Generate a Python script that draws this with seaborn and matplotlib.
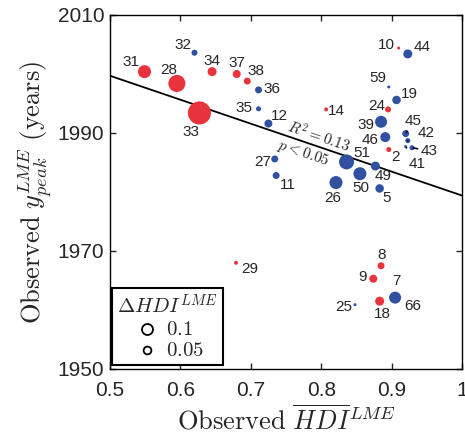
import numpy as np
import pandas as pd
import matplotlib
matplotlib.use("Agg")
import matplotlib.pyplot as plt
import seaborn as sns

# country ids, observed mean HDI, observed peak year, delta HDI (marker size), group colour
ids = ['31', '28', '33', '32', '34', '37', '38', '36', '35', '12', '27', '11', '14', '29',
       '10', '44', '59', '19', '24', '39', '46', '45', '42', '43', '41', '2', '51', '49',
       '50', '26', '5', '8', '9', '7', '66', '18', '25']
hdi = [0.549, 0.595, 0.627, 0.620, 0.645, 0.680, 0.695, 0.711, 0.711, 0.725, 0.734, 0.736,
       0.807, 0.679, 0.910, 0.923, 0.896, 0.907, 0.895, 0.885, 0.891, 0.920, 0.923, 0.929,
       0.920, 0.896, 0.836, 0.877, 0.855, 0.821, 0.883, 0.885, 0.874, 0.905, 0.905, 0.883,
       0.848]
ypeak = [2000.4, 1998.4, 1993.4, 2003.6, 2000.4, 2000.0, 1998.8, 1997.3, 1994.1, 1991.6,
         1985.6, 1982.8, 1994.0, 1968.0, 2004.4, 2003.4, 1997.8, 1995.6, 1994.0, 1991.9,
         1989.3, 1989.9, 1988.7, 1987.5, 1987.7, 1987.2, 1985.1, 1984.4, 1983.1, 1981.6,
         1980.6, 1967.5, 1965.3, 1962.1, 1962.1, 1961.5, 1960.9]
dhdi = [0.14, 0.24, 0.44, 0.030, 0.067, 0.053, 0.040, 0.040, 0.021, 0.053, 0.040, 0.040,
        0.013, 0.013, 0.0074, 0.067, 0.0074, 0.060, 0.030, 0.119, 0.083, 0.040, 0.021,
        0.021, 0.0074, 0.021, 0.186, 0.067, 0.14, 0.14, 0.060, 0.040, 0.053, 0.01, 0.119,
        0.067, 0.0074]
group = ['r', 'r', 'r', 'b', 'r', 'r', 'r', 'b', 'b', 'b', 'b', 'b', 'r', 'r',
         'r', 'b', 'b', 'b', 'r', 'b', 'b', 'b', 'b', 'b', 'b', 'r', 'b', 'b',
         'b', 'b', 'b', 'r', 'r', 'b', 'b', 'r', 'b']

# regression line end points
fit_x = [0.5, 1.0]
fit_y = [1999.7, 1979.4]

# label offsets (points) and which labels get a leader line
offsets = {'31': (-9.4, 6.7), '28': (-5.5, 9.6), '33': (-6.3, -13.7), '32': (-8.6, 5.3),
           '34': (0, 7.7), '37': (0, 7.9), '38': (6.3, 7.2), '36': (10, 0.5),
           '35': (-10.3, 0.7), '12': (7.9, 5.5), '27': (-8.9, -2.4), '11': (8.2, -6.7),
           '14': (7.7, -1.4), '29': (10, -4.5), '10': (-8.9, 1.9), '44': (10.5, 4.8),
           '59': (-7.9, 6.3), '19': (8.9, 4), '24': (-8.2, 2.2), '39': (-11, -2.2),
           '46': (-10.6, -2.4), '45': (5.3, 9.1), '42': (13.2, 5.3), '43': (12.5, -2.2),
           '41': (8.4, -12.5), '2': (4.8, -5.5), '51': (10.8, 6.2), '49': (5.5, -7),
           '50': (0.7, -10.6), '26': (-2.6, -11.3), '5': (4.8, -6.9), '8': (0.7, 7.4),
           '9': (-7.7, 1.2), '7': (1.2, 12), '66': (12.5, -6.3), '18': (1.9, -9.4),
           '25': (-8.4, -1.9)}
leaders = ['45', '42', '43', '41']

df = pd.DataFrame({"id": ids, "hdi": hdi, "ypeak": ypeak, "dhdi": dhdi, "group": group})

sns.set_style("ticks")
plt.rcParams['font.family'] = ['Liberation Sans', 'DejaVu Sans']
plt.rcParams['mathtext.fontset'] = 'cm'

fig = plt.figure(figsize=(4.65, 4.38), dpi=100)
ax = fig.add_axes([110/465, 1-369/438, 352/465, 354/438])

k = 627.0  # area (pt^2) per unit delta HDI
sns.scatterplot(data=df, x="hdi", y="ypeak", hue="group", size="dhdi",
                sizes=(0, k), size_norm=(0, 1),
                palette={'r': '#e8323c', 'b': '#3050a2'}, linewidth=0,
                legend=False, ax=ax, zorder=3)
sns.lineplot(x=fit_x, y=fit_y, color='black', lw=1.3, ax=ax, zorder=2)

for i, xx, yy in zip(ids, hdi, ypeak):
    dx, dy = offsets[i]
    if i in leaders:
        ax.annotate(i, (xx, yy), xytext=(dx, dy), textcoords='offset points',
                    ha='center', va='center', fontsize=11,
                    arrowprops=dict(arrowstyle='-', color='black', lw=1.2,
                                    shrinkA=5, shrinkB=1))
    else:
        ax.annotate(i, (xx, yy), xytext=(dx, dy), textcoords='offset points',
                    ha='center', va='center', fontsize=11)

ax.text(0.7966, 1989.4, r'$R^2 = 0.13$', rotation=-18.8, rotation_mode='anchor',
        ha='center', va='center', fontsize=11)
ax.text(0.774, 1986.6, r'$p < 0.05$', rotation=-18.8, rotation_mode='anchor',
        ha='center', va='center', fontsize=11)

ax.set_xlim(0.5, 1.0)
ax.set_ylim(1950, 2010)
ax.set_xticks([0.5, 0.6, 0.7, 0.8, 0.9, 1.0])
ax.set_xticklabels(['0.5', '0.6', '0.7', '0.8', '0.9', '1'])
ax.set_yticks([1950, 1970, 1990, 2010])
ax.tick_params(direction='in', top=True, right=True, length=4, width=1, labelsize=15)
ax.tick_params(axis='x', pad=9)
ax.tick_params(axis='y', pad=4)
for s in ax.spines.values():
    s.set_linewidth(1.0)
    s.set_color('black')

ax.set_xlabel(r'$\mathrm{Observed}\ \overline{HDI}^{LME}$', fontsize=19, labelpad=3)
ax.set_ylabel(r'$\mathrm{Observed}\ y_{peak}^{LME}\ \mathrm{(years)}$', fontsize=19, labelpad=2)

h1 = ax.scatter([], [], s=k*0.1, facecolor='white', edgecolor='black', linewidth=1.3)
h2 = ax.scatter([], [], s=k*0.05, facecolor='white', edgecolor='black', linewidth=1.3)
leg = ax.legend([h1, h2], [r'$0.1$', r'$0.05$'], title=r'$\Delta HDI^{LME}$',
                loc='lower left', bbox_to_anchor=(0.006, 0.011), borderaxespad=0,
                fontsize=15, title_fontsize=15, fancybox=False, framealpha=1,
                handletextpad=0.2, labelspacing=0.1, borderpad=0.25, handlelength=1.5)
leg.get_frame().set_edgecolor('black')
leg.get_frame().set_linewidth(1.5)
leg.set_zorder(5)

fig.savefig("out.png", dpi=100)
